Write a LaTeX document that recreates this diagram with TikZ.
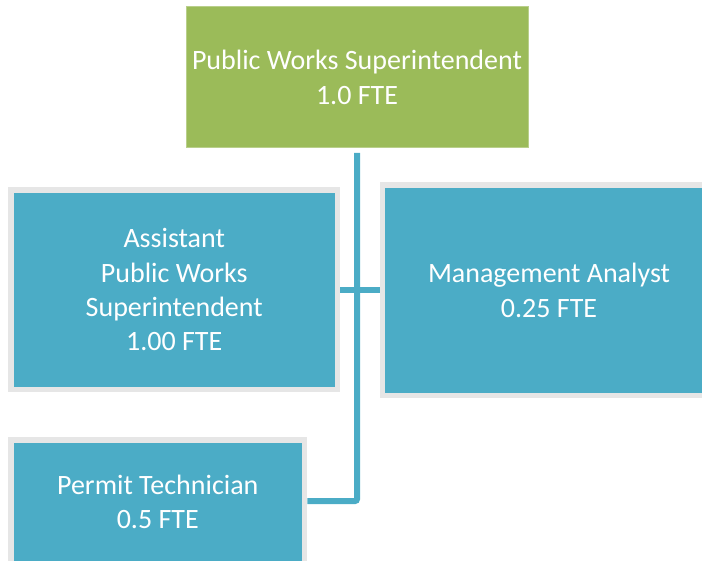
\documentclass[tikz,border=0pt]{standalone}
\usepackage{fontspec}
\setmainfont{Carlito}
\definecolor{topgreen}{HTML}{9BBB59}
\definecolor{boxblue}{HTML}{4BACC6}
\definecolor{rimgray}{HTML}{E6E6E6}
\begin{document}
\begin{tikzpicture}[x=1pt,y=-1pt,
  every node/.style={inner sep=0pt, outer sep=0pt},
  boxtext/.style={text=white, align=center, font=\fontsize{28}{34.3}\selectfont},
  headbox/.style={rectangle, fill=topgreen, draw=topgreen!70!white, line width=1pt, boxtext},
  staffbox/.style={rectangle, fill=boxblue, draw=rimgray, line width=5.5pt, outer sep=2.75pt, boxtext},
  link/.style={draw=boxblue, line width=6pt}]
\useasboundingbox (0,0) rectangle (702,561);
\clip (0,0) rectangle (702,561);
\node[headbox, minimum width=342pt, minimum height=141pt] (sup) at (357,77.5)
  {Public Works Superintendent\\1.0 FTE};
\node[staffbox, minimum width=326.5pt, minimum height=199.5pt] (asst) at (174.25,289.75)
  {Assistant\\Public Works\\Superintendent\\1.00 FTE};
\node[staffbox, minimum width=333pt, minimum height=210.5pt] (mgmt) at (549,290.25)
  {Management Analyst\\0.25 FTE};
\node[staffbox, minimum width=293.5pt, minimum height=140pt, text depth=17pt] (permit) at (157.75,510)
  {Permit Technician\\0.5 FTE};
\coordinate (pin) at ([yshift=9pt]permit.east);
\draw[link, rounded corners=2pt] ([yshift=-5pt]sup.south) -- (sup.south |- pin) -- (pin);
\draw[link] (asst.east) -- (asst.east -| mgmt.west);
\end{tikzpicture}
\end{document}
